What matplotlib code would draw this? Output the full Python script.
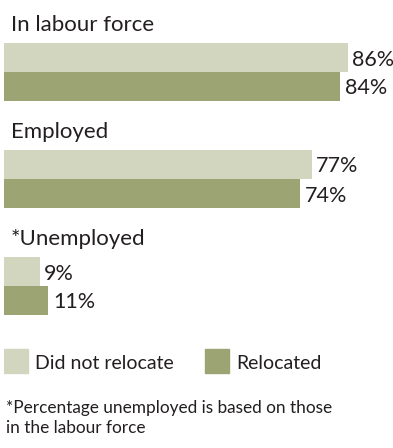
import matplotlib
matplotlib.use("Agg")
import matplotlib.pyplot as plt
from matplotlib.patches import Rectangle

categories = ["In labour force", "Employed", "*Unemployed"]
did_not_relocate = [86, 77, 9]
relocated = [84, 74, 11]
series_names = ["Did not relocate", "Relocated"]
footnote_lines = ["*Percentage unemployed is based on those",
                  "in the labour force"]

LIGHT = "#d3d6bf"
DARK = "#9ca473"
TEXT = "#231f20"
plt.rcParams['font.family'] = ['Lato', 'DejaVu Sans']

W, H = 393, 448
fig = plt.figure(figsize=(W / 100, H / 100), dpi=100)
fig.patch.set_facecolor("white")

# axes: x in percent (4 px per %), y in pixel units from top
ax = fig.add_axes([4 / W, 0, (W - 4) / W, 1])
ax.set_xlim(0, (W - 4) / 4)
ax.set_ylim(H, 0)
ax.axis("off")

group_step = 107
bar_h = 29
first_top = 43
for i, cat in enumerate(categories):
    top = first_top + group_step * i
    yl = top + bar_h / 2
    yd = top + bar_h + bar_h / 2
    ax.barh(yl, did_not_relocate[i], height=bar_h, color=LIGHT, left=0)
    ax.barh(yd, relocated[i], height=bar_h, color=DARK, left=0)
    ax.text(1.75, top - 12, cat,
            fontsize=16, color=TEXT, va="baseline", ha="left")
    ax.text(did_not_relocate[i] + 1, yl + 8, f"{did_not_relocate[i]}%",
            fontsize=15.5, color=TEXT, va="baseline", ha="left")
    ax.text(relocated[i] + 1.2, yd + 8, f"{relocated[i]}%",
            fontsize=15.5, color=TEXT, va="baseline", ha="left")

# legend
leg_y = 349
for x0, col, name in [(0, LIGHT, series_names[0]), (50.25, DARK, series_names[1])]:
    ax.add_patch(Rectangle((x0, leg_y), 6, 24, color=col))
    ax.text(x0 + 7.75, leg_y + 20, name, fontsize=14, color=TEXT,
            va="baseline", ha="left")

for j, line in enumerate(footnote_lines):
    ax.text(0.5, 413 + 20 * j, line, fontsize=12.4, color=TEXT,
            va="baseline", ha="left")

fig.savefig("out.png", dpi=100, facecolor="white")
